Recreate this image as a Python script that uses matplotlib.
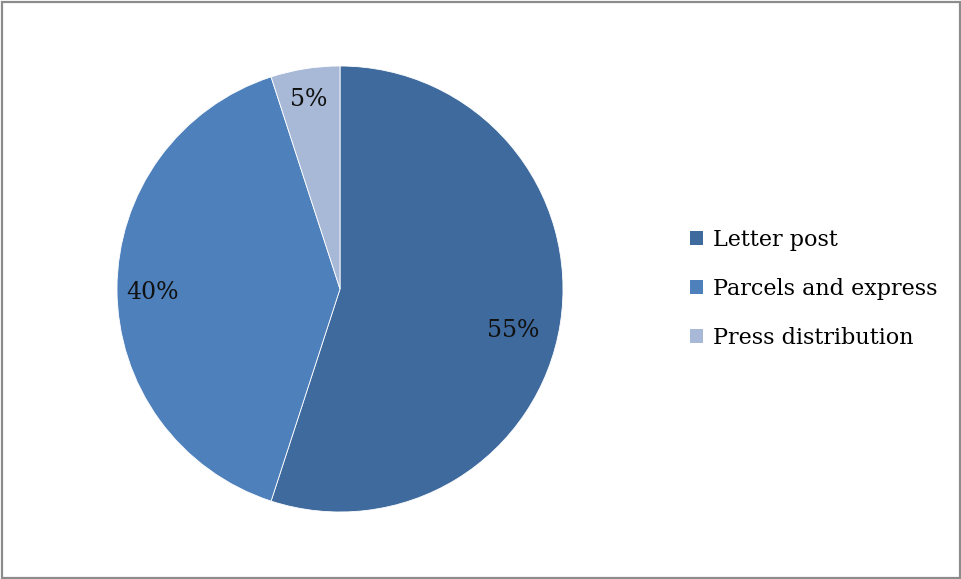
import numpy as np
import matplotlib
matplotlib.use("Agg")
import matplotlib.pyplot as plt
from matplotlib.patches import Rectangle, Patch

categories = ["Letter post", "Parcels and express", "Press distribution"]
shares = [55, 40, 5]
colors = ["#3F6A9D", "#4E80BC", "#A8B9D8"]

plt.rcParams["font.family"] = ["DejaVu Serif"]

W, H = 962, 579
fig = plt.figure(figsize=(W / 100, H / 100), dpi=100)

# outer frame
fig.patches.append(Rectangle((1.5 / W, 1.5 / H), (W - 3.5) / W, (H - 3.5) / H,
                             transform=fig.transFigure, fill=False,
                             edgecolor="#8C8C8C", linewidth=1.6))

cx, cy, r = 340, 289, 223
ax = fig.add_axes([(cx - r) / W, (H - cy - r) / H, 2 * r / W, 2 * r / H])
wedges, texts, autotexts = ax.pie(
    shares, colors=colors, startangle=90, counterclock=False,
    autopct=lambda p: f"{p:.0f}%", pctdistance=0.83,
    wedgeprops=dict(edgecolor="white", linewidth=0.6),
    textprops=dict(fontsize=17, color="#111111"))

# best-fit style label placement: radial distance and angular nudge per slice
label_dist = [0.80, 0.84, 0.86]
label_nudge = [-4.5, 1.0, 0.5]
for w, t, d, n in zip(wedges, autotexts, label_dist, label_nudge):
    ang = np.deg2rad((w.theta1 + w.theta2) / 2 + n)
    t.set_position((d * np.cos(ang), d * np.sin(ang)))

ax.set_aspect("equal")
ax.set_xlim(-1, 1)
ax.set_ylim(-1, 1)

handles = [Patch(facecolor=c, edgecolor="none") for c in colors]
fig.legend(handles, categories, loc="center left",
           bbox_to_anchor=(690 / W, 1 - 289 / H), frameon=False,
           fontsize=16, handlelength=0.58, handleheight=0.58,
           handletextpad=0.45, labelspacing=1.22, borderaxespad=0,
           borderpad=0)

fig.savefig("out.png", dpi=100)
